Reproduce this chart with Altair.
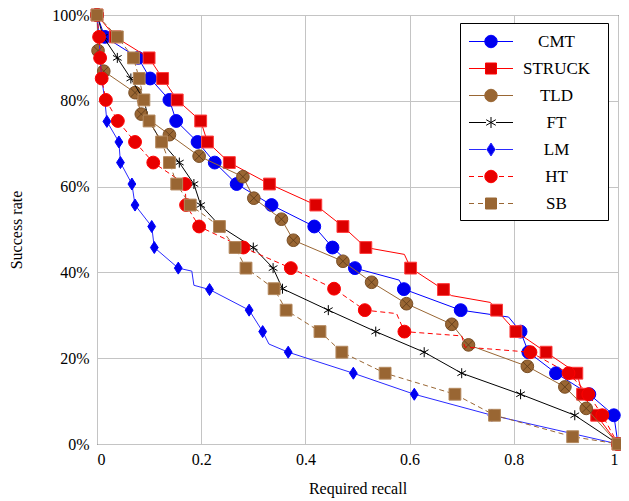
import altair as alt
import pandas as pd

SERIES = ["CMT", "STRUCK", "TLD", "FT", "LM", "HT", "SB"]

CMT_X = [0.0, 0.015, 0.079, 0.102, 0.139, 0.152, 0.193, 0.226, 0.268, 0.335, 0.417, 0.452, 0.495, 0.589, 0.698, 0.813, 0.828, 0.881, 0.945, 0.992, 1.0]
CMT_Y = [100, 94.9, 90.0, 85.2, 80.2, 75.3, 70.4, 65.6, 60.6, 55.7, 50.7, 45.8, 41.0, 36.1, 31.2, 26.2, 21.4, 16.5, 11.6, 6.7, 0]

STRUCK_X = [0.0, 0.035, 0.100, 0.126, 0.154, 0.199, 0.212, 0.254, 0.331, 0.420, 0.472, 0.516, 0.602, 0.665, 0.767, 0.804, 0.862, 0.921, 0.932, 0.959, 1.0]
STRUCK_Y = [100, 94.9, 90.0, 85.2, 80.2, 75.3, 70.4, 65.6, 60.6, 55.7, 50.7, 45.8, 41.0, 36.0, 31.2, 26.2, 21.4, 16.5, 11.6, 6.7, 0]

TLD_X = [0.0, 0.002, 0.013, 0.073, 0.085, 0.139, 0.196, 0.280, 0.301, 0.354, 0.377, 0.472, 0.527, 0.594, 0.681, 0.713, 0.826, 0.898, 0.939, 1.0]
TLD_Y = [100, 91.7, 86.9, 81.9, 76.9, 72.1, 67.1, 62.3, 57.3, 52.4, 47.5, 42.6, 37.7, 32.7, 27.9, 23.1, 18.1, 13.3, 8.3, 0]

FT_X = [0.0, 0.012, 0.039, 0.065, 0.090, 0.100, 0.124, 0.158, 0.186, 0.199, 0.237, 0.300, 0.338, 0.356, 0.444, 0.535, 0.628, 0.700, 0.813, 0.917, 1.0]
FT_Y = [100, 94.9, 90.0, 85.2, 80.2, 75.3, 70.4, 65.6, 60.6, 55.7, 50.7, 45.8, 41.0, 36.2, 31.2, 26.2, 21.4, 16.5, 11.6, 6.7, 0]

LM_X = [0.0, 0.004, 0.006, 0.009, 0.015, 0.019, 0.042, 0.045, 0.067, 0.073, 0.105, 0.110, 0.156, 0.216, 0.292, 0.318, 0.367, 0.492, 0.609, 0.758, 1.0]
LM_Y = [100, 94.9, 90.0, 85.2, 80.2, 75.2, 70.4, 65.6, 60.6, 55.7, 50.7, 45.8, 41.0, 36.0, 31.2, 26.2, 21.4, 16.5, 11.6, 6.7, 0]

HT_X = [0.0, 0.004, 0.006, 0.009, 0.017, 0.040, 0.073, 0.108, 0.169, 0.171, 0.196, 0.281, 0.372, 0.455, 0.514, 0.590, 0.832, 0.905, 0.943, 0.970, 1.0]
HT_Y = [100, 94.9, 90.0, 85.2, 80.2, 75.3, 70.4, 65.6, 60.6, 55.7, 50.7, 45.8, 41.0, 36.2, 31.2, 26.2, 21.4, 16.5, 11.6, 6.7, 0]

SB_X = [0.0, 0.039, 0.070, 0.081, 0.090, 0.100, 0.124, 0.139, 0.153, 0.179, 0.235, 0.265, 0.286, 0.340, 0.363, 0.428, 0.470, 0.553, 0.687, 0.763, 0.913, 1.0]
SB_Y = [100, 94.9, 90.0, 85.2, 80.2, 75.3, 70.4, 65.6, 60.6, 55.7, 50.7, 45.8, 41.0, 36.2, 31.2, 26.2, 21.4, 16.5, 11.6, 6.7, 1.7, 0]

# extra line vertices (no marker) read from the curve between markers
CMT_LX = [0.580, 0.790]
CMT_LY = [38.2, 29.6]
STRUCK_LX = [0.590, 0.680, 0.755]
STRUCK_LY = [44.2, 34.6, 33.0]
HT_LX = [0.575, 0.700, 0.706]
HT_LY = [30.4, 25.2, 22.6]
LM_LX = [0.182, 0.186, 0.330]
LM_LY = [40.3, 37.0, 23.3]

X_TICKS = [0, 0.2, 0.4, 0.6, 0.8, 1]
Y_TICKS = [0, 20, 40, 60, 80, 100]

DATA = {
    "CMT": (CMT_X, CMT_Y), "STRUCK": (STRUCK_X, STRUCK_Y), "TLD": (TLD_X, TLD_Y),
    "FT": (FT_X, FT_Y), "LM": (LM_X, LM_Y), "HT": (HT_X, HT_Y), "SB": (SB_X, SB_Y),
}
EXTRA = {"CMT": (CMT_LX, CMT_LY), "STRUCK": (STRUCK_LX, STRUCK_LY),
         "HT": (HT_LX, HT_LY), "LM": (LM_LX, LM_LY)}

LINE_COLOR = {"CMT": "#0000ff", "STRUCK": "#ff0000", "TLD": "#996633", "FT": "#000000",
              "LM": "#2a2aff", "HT": "#ff0000", "SB": "#996633"}
FILL = {"CMT": "#0000ee", "STRUCK": "#dd0000", "TLD": "#996633", "FT": "#000000",
        "LM": "#0000ee", "HT": "#e80000", "SB": "#996633"}
STROKE = {"CMT": "#0000ff", "STRUCK": "#ff3a3a", "TLD": "#7a4f26", "FT": "#000000",
          "LM": "#0000ff", "HT": "#ff0000", "SB": "#b3875c"}
DASHED = {"HT", "SB"}

DIAMOND = "M0,-1L0.65,0L0,1L-0.65,0Z"
STAR = "M0,-1L0,1M-0.87,-0.5L0.87,0.5M-0.87,0.5L0.87,-0.5"
CROSS = "M-0.7,-0.7L0.7,0.7M-0.7,0.7L0.7,-0.7"
SHAPE = {"CMT": "circle", "STRUCK": "square", "TLD": "circle", "FT": STAR,
         "LM": DIAMOND, "HT": "circle", "SB": "square"}
SIZE = {"CMT": 165, "STRUCK": 140, "TLD": 160, "FT": 100, "LM": 144, "HT": 165, "SB": 140}


def circ(r):
    k = round(0.5523 * r, 3)
    return (f"M{r},0C{r},{k} {k},{r} 0,{r}C{-k},{r} {-r},{k} {-r},0"
            f"C{-r},{-k} {-k},{-r} 0,{-r}C{k},{-r} {r},{-k} {r},0Z")


SOLID = "M-2.2,0L-0.5,0M0.5,0L2.2,0"
DASH = "M-2.2,0L-1.7,0M-1.3,0L-0.8,0M0.8,0L1.3,0M1.7,0L2.2,0"
EXT = "M10.7,0"
SQ = "M-0.55,-0.55L0.55,-0.55L0.55,0.55L-0.55,0.55Z"
LEG_MARK = {"CMT": circ(0.62), "STRUCK": SQ, "TLD": circ(0.62),
            "FT": "M0,-0.55L0,0.55M-0.48,-0.28L0.48,0.28M-0.48,0.28L0.48,-0.28",
            "LM": "M0,-0.65L0.42,0L0,0.65L-0.42,0Z", "HT": circ(0.62), "SB": SQ}
LEG_PATH = [(DASH if s in DASHED else SOLID) + LEG_MARK[s] + EXT for s in SERIES]

FONT = "Liberation Serif"

frames = {}
line_frames = {}
for s in SERIES:
    xs, ys = DATA[s]
    frames[s] = pd.DataFrame({"series": s, "recall": xs, "rate": ys})
    lx, ly = EXTRA.get(s, ([], []))
    ldf = pd.DataFrame({"series": s, "recall": list(xs) + list(lx), "rate": list(ys) + list(ly)})
    ldf = ldf.sort_values(["rate", "recall"], ascending=[False, True]).reset_index(drop=True)
    ldf["idx"] = range(len(ldf))
    line_frames[s] = ldf
all_df = pd.concat(frames.values(), ignore_index=True)

x_enc = alt.X("recall:Q", scale=alt.Scale(domain=[0, 1], nice=False, zero=False),
              axis=alt.Axis(values=X_TICKS, labelExpr="'' + round(datum.value*10)/10",
                            title="Required recall", labelPadding=7, titlePadding=13))
y_enc = alt.Y("rate:Q", scale=alt.Scale(domain=[0, 100], nice=False),
              axis=alt.Axis(values=Y_TICKS, labelExpr="datum.value + '%'",
                            title="Success rate", labelPadding=8, titlePadding=27))

layers = []
for s in SERIES:
    lk = dict(color=LINE_COLOR[s], strokeWidth=1, clip=False)
    if s in DASHED:
        lk["strokeDash"] = [5, 3.5]
    layers.append(alt.Chart(line_frames[s]).mark_line(**lk).encode(x=x_enc, y=y_enc, order="idx:Q"))
    layers.append(alt.Chart(frames[s]).mark_point(shape=SHAPE[s], filled=True, fill=FILL[s],
                                                  stroke=STROKE[s], strokeWidth=1, size=SIZE[s],
                                                  opacity=1, clip=False).encode(x=x_enc, y=y_enc))
    if s == "TLD":
        layers.append(alt.Chart(frames[s]).mark_point(shape=CROSS, filled=False, stroke="#5a3818",
                                                      strokeWidth=0.8, size=160, opacity=1,
                                                      clip=False).encode(x=x_enc, y=y_enc))

leg = alt.Legend(title=None, orient="none", legendX=363, legendY=8)
legend_layer = alt.Chart(all_df).transform_filter("datum.rate > 1000").mark_point(
    filled=True, size=400, opacity=1, strokeWidth=1
).encode(
    x=x_enc, y=y_enc,
    fill=alt.Fill("series:N", scale=alt.Scale(domain=SERIES, range=[FILL[s] for s in SERIES]), legend=leg),
    stroke=alt.Stroke("series:N", scale=alt.Scale(domain=SERIES, range=[LINE_COLOR[s] for s in SERIES]), legend=leg),
    shape=alt.Shape("series:N", scale=alt.Scale(domain=SERIES, range=LEG_PATH), legend=leg),
)
layers.append(legend_layer)

chart = alt.layer(*layers).properties(
    width=521, height=429,
    autosize=alt.AutoSizeParams(type="none"),
    padding={"left": 89, "top": 7, "right": 3, "bottom": 56},
).configure_view(
    stroke="black", strokeWidth=1
).configure_axis(
    labelFont=FONT, labelFontSize=16, labelColor="black",
    titleFont=FONT, titleFontSize=16, titleColor="black", titleFontWeight="normal",
    grid=True, gridColor="#c4c4c4", gridWidth=1, ticks=False, domain=False,
).configure_legend(
    strokeColor="black", fillColor="white", padding=8, rowPadding=8,
    labelFont=FONT, labelFontSize=17, labelColor="black", labelAlign="center",
    labelOffset=55, symbolOffset=12.5, symbolSize=400, symbolStrokeWidth=1,
    cornerRadius=0, strokeWidth=1,
)

chart.save("out.html", embed_options={"renderer": "svg", "actions": False})
